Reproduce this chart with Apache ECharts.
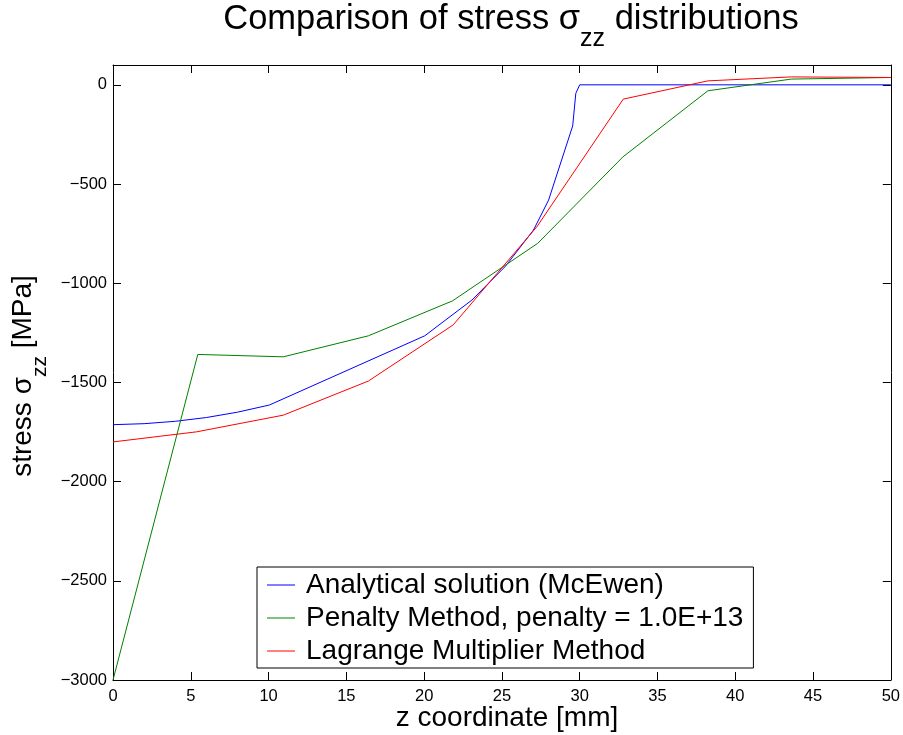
<!DOCTYPE html>
<html>
<head>
<meta charset="utf-8">
<script src="https://cdn.jsdelivr.net/npm/echarts@6/dist/echarts.min.js"></script>
<style>
html,body{margin:0;padding:0;background:#fff;}
#chart{width:903px;height:735px;}
</style>
</head>
<body>
<div id="chart"></div>
<script>
// ---- data ----
const seriesNames = ['Analytical solution (McEwen)', 'Penalty Method, penalty = 1.0E+13', 'Lagrange Multiplier Method'];

const analyticalX = [0, 2, 4, 6, 8, 10.05, 20.04, 23.07, 25.23, 27.03, 28.0, 29.55, 29.75, 30.0, 50];
const analyticalY = [-1713, -1708, -1696, -1677, -1650, -1614, -1265, -1085, -914, -732, -581, -207, -43, 0, 0];

const penaltyX = [0, 5.45, 10.95, 16.42, 21.82, 27.3, 32.78, 38.24, 43.6, 50];
const penaltyY = [-3000, -1359, -1371, -1265, -1089, -799, -363, -30, 29, 37];

const lagrangeX = [0, 5.38, 10.95, 16.42, 21.87, 27.26, 32.8, 38.24, 43.6, 50];
const lagrangeY = [-1800, -1749, -1665, -1493, -1210, -714, -72, 20, 40, 37];

const xTicks = [0, 5, 10, 15, 20, 25, 30, 35, 40, 45, 50];
const yTicks = [-3000, -2500, -2000, -1500, -1000, -500, 0];

const titleText = '{a|Comparison of stress σ}{s|zz}{a| distributions}';
const yLabelText = '{a|stress σ}{s|zz}{a| [MPa]}';
const xLabelText = 'z coordinate [mm]';

// ---- build ----
const FONT = 'Liberation Sans, Arial, Helvetica, sans-serif';
function zip(xs, ys) { return xs.map((x, i) => [x, ys[i]]); }
function fmtY(v) { return v < 0 ? '\u2212' + Math.abs(v) : String(v); }

const chart = echarts.init(document.getElementById('chart'), null, {renderer: 'canvas'});

const axisCommon = {
  type: 'value',
  axisLine: {show: true, onZero: false, lineStyle: {color: '#000', width: 1}},
  axisTick: {show: true, inside: true, length: 8, lineStyle: {color: '#000', width: 1}},
  splitLine: {show: false}
};

const option = {
  backgroundColor: '#fff',
  animation: false,
  grid: {left: 113, right: 11, top: 65, bottom: 55, containLabel: false},
  xAxis: [
    Object.assign({}, axisCommon, {
      position: 'bottom', min: 0, max: 50, interval: 5,
      axisLabel: {color: '#000', fontSize: 16.5, fontFamily: FONT, margin: 8,
        customValues: xTicks}
    }),
    Object.assign({}, axisCommon, {
      position: 'top', min: 0, max: 50, interval: 5,
      axisLabel: {show: false}
    })
  ],
  yAxis: [
    Object.assign({}, axisCommon, {
      position: 'left', min: -3000, max: 100, interval: 500,
      axisTick: Object.assign({}, axisCommon.axisTick, {customValues: yTicks}),
      axisLabel: {color: '#000', fontSize: 16.5, fontFamily: FONT, margin: 6,
        customValues: yTicks, formatter: fmtY}
    }),
    Object.assign({}, axisCommon, {
      position: 'right', min: -3000, max: 100, interval: 500,
      axisTick: Object.assign({}, axisCommon.axisTick, {customValues: yTicks}),
      axisLabel: {show: false}
    })
  ],
  legend: {
    orient: 'vertical',
    left: 257, top: 567,
    padding: [4, 10, 3, 10],
    itemGap: 5,
    icon: 'rect',
    itemWidth: 28, itemHeight: 1,
    borderColor: '#000', borderWidth: 1,
    backgroundColor: '#fff',
    textStyle: {fontSize: 28, color: '#000', fontFamily: FONT, padding: [0, 0, 0, 6]},
    data: seriesNames
  },
  series: [
    {name: seriesNames[0], type: 'line', data: zip(analyticalX, analyticalY),
      symbol: 'none', lineStyle: {color: '#0000ff', width: 1}, itemStyle: {color: '#0000ff'}, z: 2},
    {name: seriesNames[1], type: 'line', data: zip(penaltyX, penaltyY),
      symbol: 'none', lineStyle: {color: '#008000', width: 1}, itemStyle: {color: '#008000'}, z: 3},
    {name: seriesNames[2], type: 'line', data: zip(lagrangeX, lagrangeY),
      symbol: 'none', lineStyle: {color: '#ff0000', width: 1}, itemStyle: {color: '#ff0000'}, z: 4}
  ],
  graphic: [
    {type: 'text', x: 511, y: 2, z: 10,
      style: {text: titleText, fill: '#000', textAlign: 'center', textVerticalAlign: 'top',
        align: 'center', verticalAlign: 'top',
        rich: {
          a: {fontSize: 34.5, lineHeight: 34, verticalAlign: 'top', fontFamily: FONT, fill: '#000'},
          s: {fontSize: 25, lineHeight: 74, fontFamily: FONT, fill: '#000'}
        }}},
    {type: 'text', x: 9, y: 376, rotation: Math.PI / 2, z: 10,
      style: {text: yLabelText, fill: '#000', textAlign: 'center', textVerticalAlign: 'top',
        align: 'center', verticalAlign: 'top',
        rich: {
          a: {fontSize: 28, lineHeight: 32, verticalAlign: 'top', fontFamily: FONT, fill: '#000'},
          s: {fontSize: 21, lineHeight: 62, fontFamily: FONT, fill: '#000'}
        }}},
    {type: 'text', x: 507, y: 718, z: 10,
      style: {text: xLabelText, fill: '#000', fontSize: 28, fontFamily: FONT,
        textAlign: 'center', textVerticalAlign: 'middle', align: 'center', verticalAlign: 'middle'}}
  ]
};

chart.setOption(option);
</script>
</body>
</html>
